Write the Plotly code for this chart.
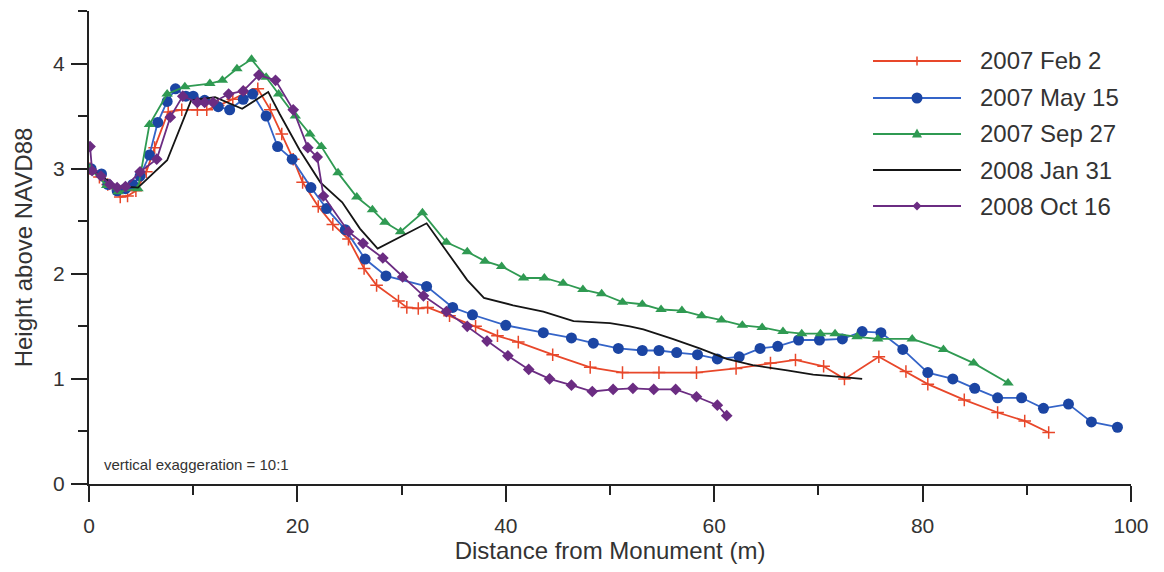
import plotly.graph_objects as go

# ---- data ----
feb_x = [0.1, 1.0, 1.8, 3.0, 3.7, 4.5, 5.5, 6.3, 7.6, 8.9, 10.4, 11.3, 12.4, 13.8, 15.0, 16.2, 17.4, 18.5, 19.6, 20.5,
         22.0, 23.4, 24.9, 26.4, 27.6, 29.7, 30.5, 31.6, 32.5, 34.6, 37.1, 39.2, 41.2, 44.5, 48.1, 51.2, 54.7, 58.3,
         62.1, 65.4, 67.8, 70.5, 72.5, 75.8, 78.4, 80.5, 84.0, 87.2, 89.8, 92.1]
feb_y = [3.0, 2.92, 2.85, 2.73, 2.74, 2.79, 2.97, 3.20, 3.54, 3.56, 3.56, 3.56, 3.60, 3.66, 3.72, 3.76, 3.56, 3.33, 3.09, 2.87,
         2.64, 2.47, 2.33, 2.05, 1.89, 1.74, 1.68, 1.67, 1.68, 1.60, 1.50, 1.41, 1.35, 1.23, 1.11, 1.06, 1.06, 1.06,
         1.10, 1.15, 1.18, 1.12, 1.00, 1.21, 1.07, 0.95, 0.80, 0.68, 0.60, 0.49]

may_x = [0.2, 1.2, 1.8, 2.7, 3.5, 4.2, 4.9, 5.8, 6.6, 7.5, 8.3, 9.3, 10.0, 11.1, 12.4, 13.5, 14.8, 15.7, 17.0, 18.1,
         19.5, 21.3, 22.8, 24.6, 26.5, 28.5, 32.4, 34.9, 36.8, 40.0, 43.6, 46.3, 48.4, 50.8, 53.1, 54.7, 56.4, 58.4,
         60.3, 62.4, 64.4, 66.1, 68.1, 70.1, 72.3, 74.2, 76.0, 78.1, 80.5, 82.9, 85.0, 87.2, 89.5, 91.6, 94.0, 96.2, 98.7]
may_y = [3.0, 2.95, 2.85, 2.79, 2.81, 2.85, 2.93, 3.13, 3.44, 3.64, 3.76, 3.69, 3.69, 3.65, 3.59, 3.56, 3.66, 3.71, 3.50, 3.21,
         3.09, 2.82, 2.62, 2.42, 2.14, 1.98, 1.88, 1.68, 1.61, 1.51, 1.44, 1.39, 1.34, 1.29, 1.27, 1.27, 1.25, 1.23,
         1.19, 1.21, 1.29, 1.31, 1.37, 1.37, 1.38, 1.45, 1.44, 1.28, 1.06, 1.00, 0.91, 0.82, 0.82, 0.72, 0.76, 0.59, 0.54]

sep_x = [0.1, 1.7, 2.8, 4.7, 5.8, 7.5, 9.2, 11.6, 12.8, 14.2, 15.6, 17.0, 18.2, 19.8, 21.2, 22.3, 23.9, 25.7, 27.2,
         28.4, 29.9, 32.0, 34.3, 36.3, 38.0, 39.6, 41.7, 43.7, 45.5, 47.4, 49.2, 51.2, 53.1, 54.9, 56.9, 58.8, 60.7,
         62.7, 64.6, 66.6, 68.4, 70.2, 71.6, 73.7, 75.7, 79.0, 82.0, 84.9, 88.2]
sep_y = [3.0, 2.84, 2.78, 2.81, 3.42, 3.71, 3.78, 3.81, 3.84, 3.95, 4.04, 3.87, 3.71, 3.50, 3.33, 3.21, 2.96, 2.73, 2.61,
         2.49, 2.40, 2.58, 2.30, 2.21, 2.12, 2.07, 1.96, 1.96, 1.91, 1.85, 1.81, 1.73, 1.71, 1.66, 1.65, 1.60, 1.56,
         1.51, 1.49, 1.45, 1.43, 1.43, 1.43, 1.40, 1.38, 1.38, 1.28, 1.15, 0.96]

jan_x = [0.2, 1.1, 2.7, 3.6, 4.7, 7.5, 9.8, 12.1, 14.7, 17.2, 18.3, 20.2, 22.2, 24.3, 26.0, 27.7, 32.4, 36.3, 37.9,
         40.7, 43.6, 46.5, 50.0, 51.9, 53.2, 56.0, 58.6, 61.2, 63.7, 67.0, 69.5, 72.1, 74.2]
jan_y = [2.99, 2.93, 2.83, 2.83, 2.82, 3.08, 3.65, 3.68, 3.57, 3.73, 3.52, 3.18, 2.87, 2.68, 2.43, 2.24, 2.48, 1.94, 1.77,
         1.70, 1.64, 1.55, 1.53, 1.50, 1.47, 1.38, 1.29, 1.19, 1.13, 1.08, 1.04, 1.02, 1.00]

oct_x = [0.1, 0.3, 1.15, 2.0, 2.7, 3.5, 4.9, 6.5, 7.8, 9.0, 10.4, 11.1, 11.9, 13.4, 14.8, 16.3, 17.9, 19.6, 21.0,
         21.9, 22.5, 24.9, 26.3, 28.2, 30.1, 32.1, 34.3, 36.3, 38.2, 40.2, 42.2, 44.2, 46.3, 48.3, 50.3, 52.2, 54.2,
         56.3, 58.3, 60.3, 61.2]
oct_y = [3.21, 2.98, 2.93, 2.85, 2.82, 2.83, 2.97, 3.09, 3.49, 3.69, 3.63, 3.63, 3.63, 3.71, 3.74, 3.89, 3.84, 3.56, 3.20,
         3.11, 2.74, 2.40, 2.29, 2.15, 1.97, 1.79, 1.64, 1.50, 1.36, 1.22, 1.09, 1.00, 0.94, 0.88, 0.90, 0.91, 0.90,
         0.90, 0.83, 0.75, 0.65]

series_names = ["2007 Feb 2", "2007 May 15", "2007 Sep 27", "2008 Jan 31", "2008 Oct 16"]
x_tick_vals = [0, 20, 40, 60, 80, 100]
y_tick_vals = [0, 1, 2, 3, 4]

# ---- styles ----
RED = "#e8472a"
BLUE_L = "#3464c8"
BLUE_M = "#1b45a3"
GREEN = "#2f9a52"
BLACK = "#151515"
PURPLE = "#6b2c82"
FONT = "Liberation Sans, Arial, sans-serif"
TXT = "#333333"
AX = "#222222"

fig = go.Figure()
fig.add_trace(go.Scatter(x=feb_x, y=feb_y, mode="lines+markers", name=series_names[0],
                         line=dict(color=RED, width=1.8),
                         marker=dict(symbol="cross-thin", size=9, line=dict(color=RED, width=1.5))))
fig.add_trace(go.Scatter(x=may_x, y=may_y, mode="lines+markers", name=series_names[1],
                         line=dict(color=BLUE_L, width=1.8),
                         marker=dict(symbol="circle", size=11, color=BLUE_M)))
fig.add_trace(go.Scatter(x=sep_x, y=sep_y, mode="lines+markers", name=series_names[2],
                         line=dict(color=GREEN, width=1.8),
                         marker=dict(symbol="triangle-up", size=10, color=GREEN)))
fig.add_trace(go.Scatter(x=jan_x, y=jan_y, mode="lines", name=series_names[3],
                         line=dict(color=BLACK, width=1.8)))
fig.add_trace(go.Scatter(x=oct_x, y=oct_y, mode="lines+markers", name=series_names[4],
                         line=dict(color=PURPLE, width=1.8),
                         marker=dict(symbol="diamond", size=9, color=PURPLE)))

# ---- custom legend (long sample lines like the reference) ----
W_PLOT, H_PLOT = 1042, 473
leg_x0 = (873 - 89) / W_PLOT
leg_x1 = (961 - 89) / W_PLOT
leg_xm = (917 - 89) / W_PLOT
leg_xt = (978 - 89) / W_PLOT
rows_px = [61, 98, 134, 170, 206]
leg_colors = [RED, BLUE_L, GREEN, BLACK, PURPLE]
shapes = []
annotations = []


def row_y(i):
    return (484 - rows_px[i]) / H_PLOT


for i, name in enumerate(series_names):
    yp = row_y(i)
    shapes.append(dict(type="line", xref="paper", yref="paper", x0=leg_x0, x1=leg_x1, y0=yp, y1=yp,
                       line=dict(color=leg_colors[i], width=1.8)))
    annotations.append(dict(xref="paper", yref="paper", x=leg_xt, y=yp, xanchor="left", yanchor="middle",
                            text=name, showarrow=False, font=dict(family=FONT, size=24, color=TXT)))

shapes.append(dict(type="path", xref="paper", yref="paper", xsizemode="pixel", ysizemode="pixel",
                   xanchor=leg_xm, yanchor=row_y(0), path="M-4,0 L4,0 M0,-4.5 L0,4.5",
                   line=dict(color=RED, width=1.5)))
shapes.append(dict(type="circle", xref="paper", yref="paper", xsizemode="pixel", ysizemode="pixel",
                   xanchor=leg_xm, yanchor=row_y(1), x0=-5.5, x1=5.5, y0=-5.5, y1=5.5,
                   fillcolor=BLUE_M, line=dict(color=BLUE_M, width=0)))
shapes.append(dict(type="path", xref="paper", yref="paper", xsizemode="pixel", ysizemode="pixel",
                   xanchor=leg_xm, yanchor=row_y(2), path="M-5,-3.5 L5,-3.5 L0,5.5 Z",
                   fillcolor=GREEN, line=dict(color=GREEN, width=0)))
shapes.append(dict(type="path", xref="paper", yref="paper", xsizemode="pixel", ysizemode="pixel",
                   xanchor=leg_xm, yanchor=row_y(4), path="M-4.5,0 L0,4.5 L4.5,0 L0,-4.5 Z",
                   fillcolor=PURPLE, line=dict(color=PURPLE, width=0)))

annotations.append(dict(xref="paper", yref="paper", x=(102 - 89) / W_PLOT, y=(484 - 464) / H_PLOT,
                        xanchor="left", yanchor="middle", showarrow=False,
                        text="vertical exaggeration = 10:1", font=dict(family=FONT, size=15, color=TXT)))

fig.update_layout(
    width=1148, height=556,
    margin=dict(l=81, r=25, t=3, b=80),
    paper_bgcolor="white", plot_bgcolor="white",
    showlegend=False,
    font=dict(family=FONT, color=TXT),
    shapes=shapes, annotations=annotations,
    xaxis=dict(range=[0, 100], tickvals=x_tick_vals, showgrid=False, zeroline=False,
               showline=True, linecolor=AX, linewidth=2,
               ticks="outside", ticklen=16, tickwidth=2, tickcolor=AX,
               minor=dict(dtick=10, ticks="outside", ticklen=9, tickwidth=2, tickcolor=AX),
               tickfont=dict(family=FONT, size=21, color=TXT), ticklabelstandoff=6,
               title=dict(text="Distance from Monument (m)", font=dict(family=FONT, size=24, color=TXT), standoff=2)),
    yaxis=dict(range=[0, 4.5], tickvals=y_tick_vals, showgrid=False, zeroline=False,
               showline=True, linecolor=AX, linewidth=2,
               ticks="outside", ticklen=16, tickwidth=2, tickcolor=AX,
               minor=dict(dtick=0.5, ticks="outside", ticklen=9, tickwidth=2, tickcolor=AX),
               tickfont=dict(family=FONT, size=21, color=TXT), ticklabelstandoff=2,
               title=dict(text="Height above NAVD88", font=dict(family=FONT, size=24, color=TXT), standoff=14)),
)

fig.write_html("out.html")
